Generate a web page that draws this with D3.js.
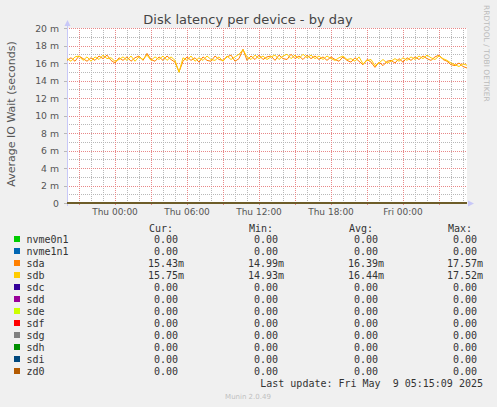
<!doctype html>
<html lang="en">
<head>
<meta charset="UTF-8" />
<title>Disk latency per device - by day</title>
<script src="https://cdn.jsdelivr.net/npm/d3@7"></script>
<style>
  body { margin: 0; background: #f0f0f0; }
  svg { display: block; }
  .mono { font-family: "DejaVu Sans Mono", monospace; font-size: 10px; fill: #333; }
</style>
</head>
<body>
<svg id="chart" width="497" height="407"></svg>
<script>
// 20 minute samples from Wed 20:00 to Fri 05:20, values in milliseconds
const sdaMs = [16.3,16.6,16.2,16.8,16.5,16.2,16.6,16.3,16.8,16.5,16.9,16.3,16.0,16.6,
  16.3,16.7,16.2,16.6,16.8,16.3,17.1, 16.4,16.2,16.7,16.3,16.8,16.4,16.1,
  14.99, 16.2,16.7,16.3,16.6,16.1,16.7,16.3,16.2,16.8,16.4,16.3,16.7,16.9,16.2,16.5,
  17.57, 16.3,16.8,16.4,16.9,16.4,16.7, 16.8,16.3,16.9,16.5,16.4,17.0,16.5,16.8,16.4,16.9,
  16.5,16.8,16.4,16.7,16.3,16.7,16.4,16.2,16.7,16.3, 16.1,16.6,16.2,15.8,16.4,16.1,15.5,16.1,15.7,16.2,
  16.3,16.0,16.5,16.1,16.6,16.3,16.7,16.4,16.8,16.5, 16.3,16.7,16.9,16.4,16.2,15.8,15.7,16.0,15.6, 15.43];
const sdbMs = [16.5,16.2,16.7,16.8,16.3,16.7,16.2,16.7,16.4,16.9,16.5,16.6,16.2,16.4,
  16.7,16.3,16.8,16.2,16.7,16.4,16.9, 16.3,16.7,16.4,16.8,16.3,16.7,16.3,
  14.93, 16.6,16.3,16.8,16.2,16.6,16.3,16.8,16.4,16.3,16.7,16.2,16.8,16.4,16.7,17.0,
  17.52, 16.7,16.4,16.9,16.5,16.8,16.4, 16.7,16.9,16.4,16.8,17.0,16.5,16.9,16.5,17.0,16.6,
  16.9,16.5,16.8,16.4,16.8,16.5,16.3,16.6,16.8,16.4, 16.5,16.2,16.7,15.9,16.3,16.4,15.7,16.0,16.4,16.0,
  16.2,16.5,16.2,16.6,16.3,16.7,16.4,16.8,16.5,16.9, 16.6,16.4,16.8,16.5,16.3,16.0,15.8,15.6,15.9, 15.75];

const devices = ["nvme0n1","nvme1n1","sda","sdb","sdc","sdd","sde","sdf","sdg","sdh","sdi","zd0"];
const colors  = ["#00CC00","#0066B3","#FF8000","#FFCC00","#330099","#990099","#CCFF00","#FF0000","#808080","#008F00","#00487D","#B35A00"];
const curVals = ["0.00","0.00","15.43m","15.75m","0.00","0.00","0.00","0.00","0.00","0.00","0.00","0.00"];
const minVals = ["0.00","0.00","14.99m","14.93m","0.00","0.00","0.00","0.00","0.00","0.00","0.00","0.00"];
const avgVals = ["0.00","0.00","16.39m","16.44m","0.00","0.00","0.00","0.00","0.00","0.00","0.00","0.00"];
const maxVals = ["0.00","0.00","17.57m","17.52m","0.00","0.00","0.00","0.00","0.00","0.00","0.00","0.00"];
const yTicks = [0,2,4,6,8,10,12,14,16,18,20];

const start = new Date(2025, 4, 7, 20, 0);
const step = 20 * 60 * 1000;
const end = new Date(+start + (sdaMs.length - 1) * step);

const svg = d3.select("#chart");
const L = 67, R = 467, T = 28, B = 203;

const x = d3.scaleTime().domain([start, end]).range([L, R]);
const y = d3.scaleLinear().domain([0, 20]).range([B, T]);
const px = v => Math.round(v) + 0.5;

// plot background
svg.append("rect").attr("x", L).attr("y", T).attr("width", R - L).attr("height", B - T).attr("fill", "#fff");

// grid (dotted, 1px on / 1px off)
const grid = svg.append("g");
const minorY = d3.range(1, 20, 2);
grid.selectAll(".ymin").data(minorY).join("line")
  .attr("x1", L).attr("x2", R).attr("y1", d => px(y(d))).attr("y2", d => px(y(d)))
  .attr("stroke", "#b8b8b8").attr("stroke-dasharray", "1 1");
const hours = d3.timeHour.range(d3.timeHour.ceil(start), end);
grid.selectAll(".xmin").data(hours.filter(d => d.getHours() % 3)).join("line")
  .attr("x1", d => px(x(d))).attr("x2", d => px(x(d))).attr("y1", T).attr("y2", B)
  .attr("stroke", "#b8b8b8").attr("stroke-dasharray", "1 1");
grid.selectAll(".ymaj").data(yTicks.slice(1)).join("line")
  .attr("x1", L).attr("x2", R).attr("y1", d => px(y(d))).attr("y2", d => px(y(d)))
  .attr("stroke", "#e88888").attr("stroke-dasharray", "1 1");
const major = hours.filter(d => d.getHours() % 3 === 0);
grid.selectAll(".xmaj").data(major).join("line")
  .attr("x1", d => px(x(d))).attr("x2", d => px(x(d))).attr("y1", T).attr("y2", B + 3)
  .attr("stroke", "#e88888").attr("stroke-dasharray", "1 1");
grid.selectAll(".ytk").data(yTicks).join("line")
  .attr("x1", L - 3).attr("x2", L).attr("y1", d => px(y(d))).attr("y2", d => px(y(d)))
  .attr("stroke", "#b8b8b8");

// axes lines and arrows
svg.append("line").attr("x1", L + 0.5).attr("x2", L + 0.5).attr("y1", T - 5).attr("y2", B + 3)
  .attr("stroke", "#c8c8f8");
svg.append("path").attr("d", `M${L - 2.5},${T - 2}L${L + 0.5},${T - 8}L${L + 3.5},${T - 2}Z`).attr("fill", "#c8c8f8");
svg.append("path").attr("d", `M${R + 1},${B - 2.5}L${R + 7},${B + 0.5}L${R + 1},${B + 3.5}Z`).attr("fill", "#c8c8f8");

// y labels
svg.append("g").selectAll("text").data(yTicks).join("text")
  .attr("x", 59).attr("y", d => y(d) + 3.5).attr("text-anchor", "end")
  .attr("font-family", "DejaVu Sans").attr("font-size", 9.3).attr("fill", "#555")
  .text(d => d === 0 ? "0" : d + " m");

// x labels
svg.append("g").selectAll("text").data(major.filter(d => d.getHours() % 6 === 0)).join("text")
  .attr("x", d => x(d)).attr("y", 215).attr("text-anchor", "middle")
  .attr("font-family", "DejaVu Sans").attr("font-size", 9).attr("fill", "#555")
  .text(d3.timeFormat("%a %H:%M"));

// series
const line = d3.line().x((d, i) => x(new Date(+start + i * step))).y(d => y(d));
const seriesData = devices.map(name => name === "sda" ? sdaMs : name === "sdb" ? sdbMs : sdaMs.map(() => 0));
svg.append("g").selectAll("path").data(seriesData).join("path")
  .attr("d", line).attr("fill", "none").attr("stroke-width", 1)
  .attr("stroke", (d, i) => colors[i]);

// titles
svg.append("text").attr("x", 248).attr("y", 24).attr("text-anchor", "middle")
  .attr("font-family", "DejaVu Sans").attr("font-size", 13).attr("fill", "#444")
  .text("Disk latency per device - by day");
svg.append("text").attr("transform", "translate(15,114) rotate(-90)").attr("text-anchor", "middle")
  .attr("font-family", "DejaVu Sans").attr("font-size", 11).attr("fill", "#555")
  .text("Average IO Wait (seconds)");
svg.append("text").attr("transform", "translate(484,5) rotate(90)")
  .attr("font-family", "DejaVu Sans").attr("font-size", 7.5).attr("fill", "#bbb")
  .text("RRDTOOL / TOBI OETIKER");

// legend
const lg = svg.append("g");
const cols = [178, 278, 378, 477];
["Cur:", "Min:", "Avg:", "Max:"].forEach((h, j) => {
  lg.append("text").attr("class", "mono").attr("x", cols[j] - 29).attr("y", 232).text(h);
});
const rows = lg.selectAll("g").data(devices).join("g")
  .attr("transform", (d, i) => `translate(0,${243 + i * 12})`);
rows.append("rect").attr("x", 14).attr("y", -7).attr("width", 6).attr("height", 6)
  .attr("fill", (d, i) => colors[i]);
rows.append("text").attr("class", "mono").attr("x", 26.5).text(d => d);
[curVals, minVals, avgVals, maxVals].forEach((vals, j) => {
  rows.append("text").attr("class", "mono").attr("x", cols[j]).attr("text-anchor", "end")
    .text((d, i) => vals[i].replace("m", ""));
  rows.append("text").attr("class", "mono").attr("x", cols[j])
    .text((d, i) => vals[i].endsWith("m") ? "m" : "");
});
lg.append("text").attr("class", "mono").attr("x", 483).attr("y", 387).attr("text-anchor", "end")
  .attr("xml:space", "preserve").style("white-space", "pre")
  .text("Last update: Fri May  9 05:15:09 2025");
svg.append("text").attr("x", 248).attr("y", 399).attr("text-anchor", "middle")
  .attr("font-family", "DejaVu Sans").attr("font-size", 7).attr("fill", "#c0c0c0")
  .text("Munin 2.0.49");
</script>
</body>
</html>
